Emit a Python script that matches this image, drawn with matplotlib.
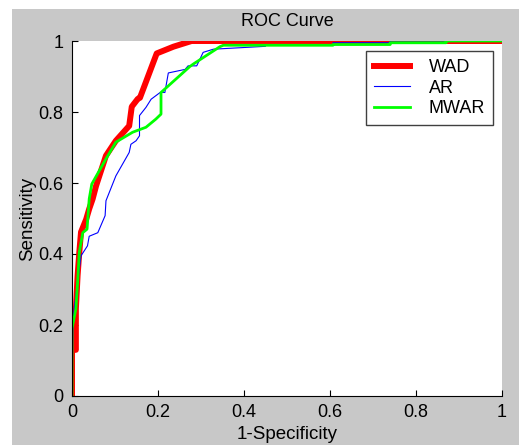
import matplotlib.pyplot as plt
from matplotlib.patches import Rectangle

plt.rcParams['font.family'] = ['Liberation Sans', 'DejaVu Sans']

# ROC curves
wad_x = [0, 0, 0.009, 0.009, 0.013, 0.017, 0.021, 0.033, 0.040, 0.048, 0.056, 0.079,
         0.102, 0.133, 0.139, 0.153, 0.158, 0.197, 0.236, 0.278, 1.0]
wad_y = [0, 0.13, 0.13, 0.245, 0.339, 0.405, 0.462, 0.498, 0.527, 0.555, 0.592, 0.677,
         0.719, 0.761, 0.815, 0.837, 0.840, 0.965, 0.984, 1.0, 1.0]

ar_x = [0, 0.002, 0.005, 0.013, 0.021, 0.036, 0.040, 0.060, 0.077, 0.079, 0.102, 0.133,
        0.137, 0.149, 0.157, 0.157, 0.172, 0.184, 0.205, 0.216, 0.224, 0.263, 0.270,
        0.290, 0.305, 0.329, 0.375, 0.45, 0.45, 0.607, 0.607, 0.74, 0.74, 1.0]
ar_y = [0, 0.198, 0.245, 0.32, 0.395, 0.423, 0.45, 0.46, 0.508, 0.55, 0.62, 0.686,
        0.709, 0.719, 0.733, 0.79, 0.813, 0.836, 0.855, 0.855, 0.91, 0.92, 0.93,
        0.93, 0.968, 0.977, 0.98, 0.985, 0.99, 0.99, 0.995, 0.995, 1.0, 1.0]

mwar_x = [0, 0, 0.009, 0.013, 0.017, 0.025, 0.035, 0.04, 0.046, 0.079, 0.102, 0.141,
          0.172, 0.195, 0.207, 0.207, 0.274, 0.282, 0.344, 0.352, 0.607, 0.607, 0.74,
          0.74, 0.87, 0.87, 1.0]
mwar_y = [0, 0.19, 0.245, 0.32, 0.405, 0.46, 0.47, 0.555, 0.597, 0.668, 0.715, 0.743,
          0.757, 0.78, 0.794, 0.855, 0.928, 0.935, 0.984, 0.988, 0.988, 0.99, 0.99,
          0.995, 0.995, 1.0, 1.0]

ticks = [0, 0.2, 0.4, 0.6, 0.8, 1]
tick_labels = ['0', '0.2', '0.4', '0.6', '0.8', '1']

W, H = 519, 445
fs = 13
fig = plt.figure(figsize=(W / 100, H / 100), dpi=100, facecolor='white')
# grey matlab-style window area, with a white strip left and top
fig.patches.append(Rectangle((12 / W, 0), 1, 1 - 9 / H, transform=fig.transFigure,
                             facecolor='#c8c8c8', edgecolor='none', zorder=-10))

ax = fig.add_axes([72 / W, (H - 396) / H, 430 / W, 355 / H])
ax.set_facecolor('white')

ax.plot(wad_x, wad_y, color='#ff0000', lw=4.3, label='WAD')
ax.plot(ar_x, ar_y, color='#0000ff', lw=0.8, label='AR')
ax.plot(mwar_x, mwar_y, color='#00ff00', lw=2.0, label='MWAR')

ax.set_xlim(0, 1)
ax.set_ylim(0, 1)
ax.set_xticks(ticks)
ax.set_xticklabels(tick_labels)
ax.set_yticks(ticks)
ax.set_yticklabels(tick_labels)
ax.tick_params(direction='in', length=4, labelsize=fs, colors='black', pad=6)
ax.spines['top'].set_visible(False)
ax.spines['right'].set_visible(False)

ax.set_title('ROC Curve', fontsize=fs, pad=11)
ax.set_xlabel('1-Specificity', fontsize=13.5, labelpad=3.5)
ax.set_ylabel('Sensitivity', fontsize=13.5, labelpad=2)

leg = ax.legend(loc='upper right', bbox_to_anchor=(0.979, 0.972), fontsize=fs,
                fancybox=False, framealpha=1, edgecolor='#404040',
                handlelength=2.0, handletextpad=1.0, borderpad=0.45,
                labelspacing=0.2, borderaxespad=0)
leg.get_frame().set_linewidth(1.0)

fig.savefig('out.png', dpi=100, facecolor=fig.get_facecolor())
